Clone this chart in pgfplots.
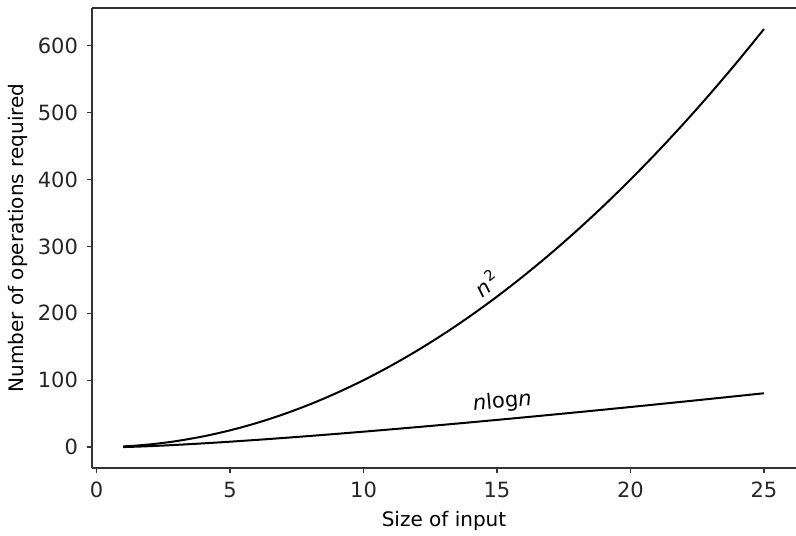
\documentclass[border=0pt]{standalone}
\usepackage{pgfplots}
\pgfplotsset{compat=1.18}
\usepackage{fontspec}
\setmainfont{DejaVu Sans}

\begin{document}
\begin{tikzpicture}
\begin{axis}[
  at={(0,0)}, anchor=south west,
  width=352pt, height=230pt, scale only axis,
  xmin=-0.17, xmax=26.2,
  ymin=-31.3, ymax=656.5,
  axis x line*=box, axis y line*=left,
  tick pos=left, tick align=outside,
  major tick length=2.5pt,
  xtick={0,5,...,25},
  ytick={0,100,...,600},
  /pgf/number format/assume math mode=true,
  tick label style={font=\fontsize{10.5}{12}\selectfont, black!85},
  xticklabel style={yshift=-1pt},
  yticklabel style={xshift=-1pt},
  axis line style={black!80, line width=0.6pt},
  tick style={black!80, line width=0.6pt},
  xlabel={Size of input},
  ylabel={Number of operations required},
  label style={font=\fontsize{10.5}{12}\selectfont, black!85},
  every axis x label/.style={at={(axis description cs:0.5,0)}, anchor=center, yshift=-26.5pt},
  every axis y label/.style={at={(axis description cs:-0.105,0.5)}, anchor=center, rotate=90},
]
\addplot[black, line width=1pt, smooth] coordinates {
  (1,1) (1.5,2.25) (2,4) (2.5,6.25) (3,9) (4,16) (5,25) (6,36) (7,49) (8,64) (9,81) (10,100)
  (11,121) (12,144) (13,169) (14,196) (15,225) (16,256) (17,289) (18,324) (19,361) (20,400)
  (21,441) (22,484) (23,529) (24,576) (25,625)
};
\addplot[black, line width=1pt, smooth] coordinates {
  (1,0) (1.5,0.608) (2,1.386) (2.5,2.291) (3,3.296) (4,5.545) (5,8.047) (6,10.751) (7,13.621)
  (8,16.636) (9,19.775) (10,23.026) (11,26.377) (12,29.819) (13,33.344) (14,36.947)
  (15,40.621) (16,44.361) (17,48.165) (18,52.026) (19,55.944) (20,59.915) (21,63.935)
  (22,68.003) (23,72.116) (24,76.273) (25,80.472)
};
\node[rotate=38, font=\fontsize{10.5}{12}\selectfont] at (axis cs:14.6,245) {\textit{n}\kern0.8pt\textsuperscript{2}};
\node[rotate=5, font=\fontsize{10.5}{12}\selectfont] at (axis cs:15.2,67) {\textit{n}log\textit{n}};
\end{axis}
\pgfresetboundingbox
\path (-46pt,-33.5pt) rectangle (352pt,234pt);
\end{tikzpicture}
\end{document}
